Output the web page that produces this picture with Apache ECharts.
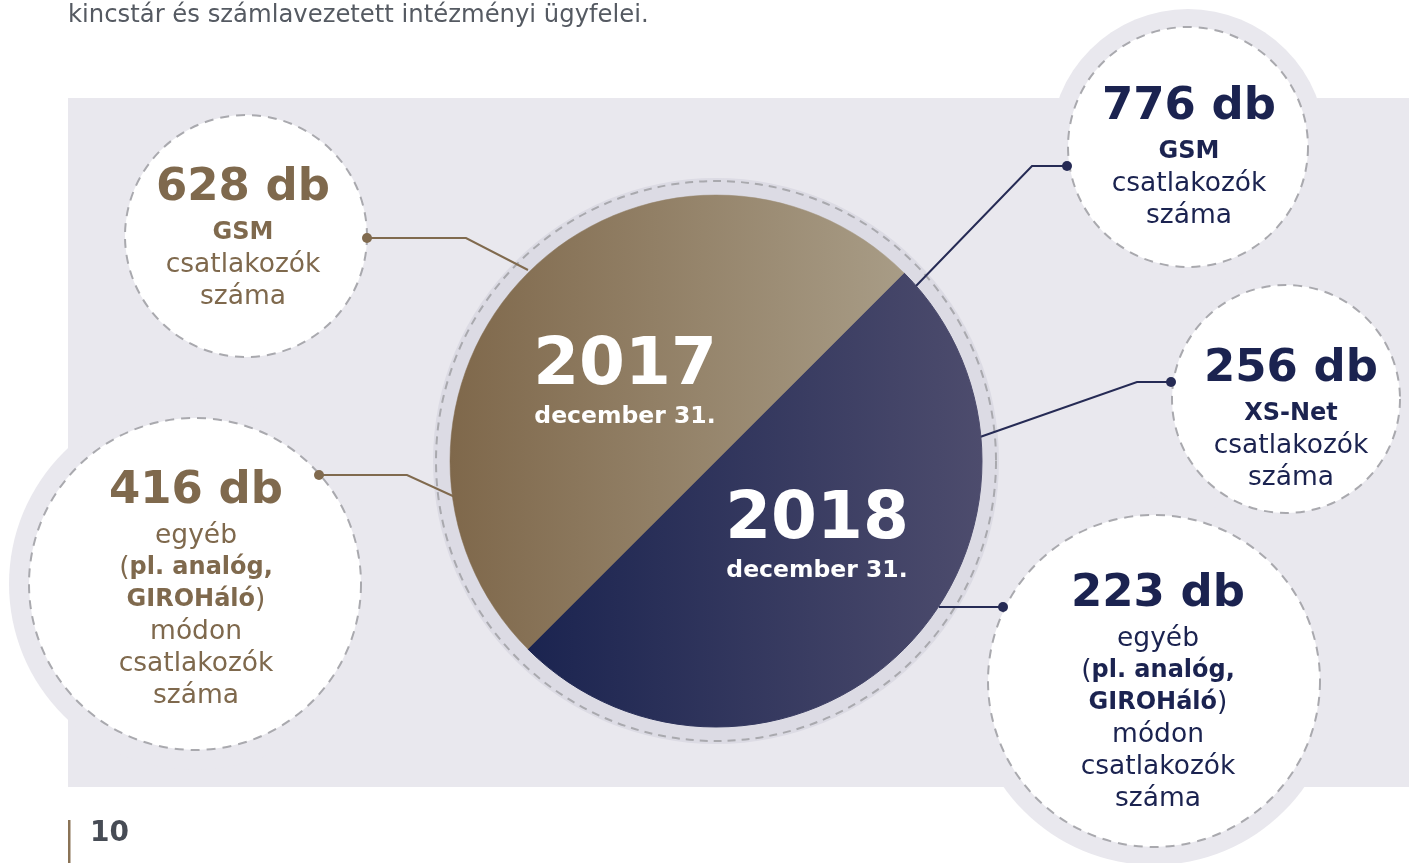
<!DOCTYPE html>
<html>
<head>
<meta charset="utf-8">
<style>
html,body{margin:0;padding:0;background:#ffffff;}
#chart{width:1409px;height:863px;}
</style>
<script src="https://cdn.jsdelivr.net/npm/echarts@6/dist/echarts.min.js"></script>
</head>
<body>
<div id="chart"></div>
<script>
// ---- data ----
const years = ['2017', '2018'];
const dateLabel = 'december 31.';
const gsmCounts = [628, 776];        // 2017, 2018
const xsNetCount2018 = 256;
const otherCounts = [416, 223];      // 2017, 2018
const unit = 'db';
const headerText = 'kincstár és számlavezetett intézményi ügyfelei.';
const pageNumber = '10';

// ---- styles ----
const FONT = '"DejaVu Sans", sans-serif';
const BROWN = '#7f694d';
const NAVY = '#1b2350';
const BG = '#e9e8ee';
const RING = '#dcdbe4';
const DASH = '#a9a9ae';

const chart = echarts.init(document.getElementById('chart'), null, {renderer: 'canvas'});

function richFor(color) {
  return {
    n: {fontFamily: FONT, fontWeight: 'bold', fontSize: 45, fill: color, lineHeight: 58, align: 'center'},
    b: {fontFamily: FONT, fontWeight: 'bold', fontSize: 24, fill: color, lineHeight: 32},
    r: {fontFamily: FONT, fontWeight: 'normal', fontSize: 26.5, fill: color, lineHeight: 32}
  };
}

const bubbles = [
  {cx: 246, cy: 236, r: 121, outer: 0, tx: 243, ty: 159, color: BROWN,
   lines: ['{n|' + gsmCounts[0] + ' ' + unit + '}', '{b|GSM}', '{r|csatlakozók}', '{r|száma}'],
   conn: [[367, 238], [466, 238], [528, 270]]},
  {cx: 195, cy: 584, r: 166, outer: 186, tx: 196, ty: 462, color: BROWN,
   lines: ['{n|' + otherCounts[0] + ' ' + unit + '}', '{r|egyéb}', '{r|(}{b|pl. analóg,}', '{b|GIROHáló}{r|)}', '{r|módon}', '{r|csatlakozók}', '{r|száma}'],
   conn: [[319, 475], [407, 475], [455, 497]]},
  {cx: 1188, cy: 147, r: 120, outer: 138, tx: 1189, ty: 78, color: NAVY,
   lines: ['{n|' + gsmCounts[1] + ' ' + unit + '}', '{b|GSM}', '{r|csatlakozók}', '{r|száma}'],
   conn: [[1067, 166], [1032, 166], [915, 287]]},
  {cx: 1286, cy: 399, r: 114, outer: 0, tx: 1291, ty: 340, color: NAVY,
   lines: ['{n|' + xsNetCount2018 + ' ' + unit + '}', '{b|XS-Net}', '{r|csatlakozók}', '{r|száma}'],
   conn: [[1171, 382], [1137, 382], [980, 437]]},
  {cx: 1154, cy: 681, r: 166, outer: 184, tx: 1158, ty: 565, color: NAVY,
   lines: ['{n|' + otherCounts[1] + ' ' + unit + '}', '{r|egyéb}', '{r|(}{b|pl. analóg,}', '{b|GIROHáló}{r|)}', '{r|módon}', '{r|csatlakozók}', '{r|száma}'],
   conn: [[939, 607], [1003, 607]], dotAtEnd: true}
];

const MAIN = {cx: 716, cy: 461, r: 266};

const elements = [];
elements.push({type: 'rect', shape: {x: 68, y: 98, width: 1400, height: 689}, style: {fill: BG}, z: 0});
bubbles.forEach(b => {
  if (b.outer) elements.push({type: 'circle', shape: {cx: b.cx, cy: b.cy, r: b.outer}, style: {fill: BG}, z: 0});
});
elements.push({type: 'circle', shape: {cx: MAIN.cx, cy: MAIN.cy, r: 283}, style: {fill: RING}, z: 1});
elements.push({type: 'circle', shape: {cx: MAIN.cx, cy: MAIN.cy, r: 280}, style: {fill: 'none', stroke: DASH, lineWidth: 2, lineDash: [8, 6]}, z: 1});
bubbles.forEach(b => {
  const lineColor = b.color === BROWN ? '#806a4e' : '#262b55';
  elements.push({type: 'polyline', shape: {points: b.conn}, style: {stroke: lineColor, lineWidth: 2, fill: null}, z: 1});
  const dot = b.dotAtEnd ? b.conn[b.conn.length - 1] : b.conn[0];
  elements.push({type: 'circle', shape: {cx: dot[0], cy: dot[1], r: 5}, style: {fill: lineColor}, z: 4});
});
bubbles.forEach(b => {
  elements.push({type: 'circle', shape: {cx: b.cx, cy: b.cy, r: b.r}, style: {fill: '#ffffff', stroke: DASH, lineWidth: 2, lineDash: [9, 7]}, z: 2});
  elements.push({type: 'text', x: b.tx, y: b.ty, z: 5,
    style: {text: b.lines.join('\n'), align: 'center', verticalAlign: 'top', rich: richFor(b.color), fill: b.color}});
});
const yearPos = [[625, 328], [817, 482]];
years.forEach((y, i) => {
  elements.push({type: 'text', x: yearPos[i][0], y: yearPos[i][1], z: 20,
    style: {text: '{y|' + y + '}\n{d|' + dateLabel + '}', align: 'center', verticalAlign: 'top', fill: '#ffffff',
      rich: {
        y: {fontFamily: FONT, fontWeight: 'bold', fontSize: 66, fill: '#ffffff', lineHeight: 77},
        d: {fontFamily: FONT, fontWeight: 'bold', fontSize: 23.5, fill: '#ffffff', lineHeight: 24}
      }}});
});
elements.push({type: 'text', x: 68, y: 16, z: 5,
  style: {text: headerText, fontFamily: FONT, fontSize: 24.3, fill: '#555a62', align: 'left', verticalAlign: 'middle'}});
elements.push({type: 'rect', shape: {x: 68, y: 820, width: 2.5, height: 43}, style: {fill: '#8a7356'}, z: 5});
elements.push({type: 'text', x: 90, y: 834, z: 5,
  style: {text: pageNumber, fontFamily: FONT, fontWeight: 'bold', fontSize: 28, fill: '#474c55', align: 'left', verticalAlign: 'middle'}});

const navyGrad = {type: 'linear', x: 529, y: 0, x2: 982, y2: 0, global: true,
  colorStops: [{offset: 0, color: '#1b2450'}, {offset: 1, color: '#4d4c6d'}]};
const brownGrad = {type: 'linear', x: 450, y: 0, x2: 904, y2: 0, global: true,
  colorStops: [{offset: 0, color: '#7f684b'}, {offset: 1, color: '#a89c86'}]};

const option = {
  animation: false,
  backgroundColor: '#ffffff',
  graphic: {elements: elements},
  series: [{
    type: 'pie',
    z: 10,
    center: [MAIN.cx, MAIN.cy],
    radius: [0, MAIN.r],
    startAngle: 45,
    clockwise: true,
    silent: true,
    label: {show: false},
    labelLine: {show: false},
    data: [
      {name: years[1], value: 1, itemStyle: {color: navyGrad, borderColor: navyGrad, borderWidth: 1}},
      {name: years[0], value: 1, itemStyle: {color: brownGrad, borderColor: brownGrad, borderWidth: 0.5}}
    ]
  }]
};
chart.setOption(option);
</script>
</body>
</html>
